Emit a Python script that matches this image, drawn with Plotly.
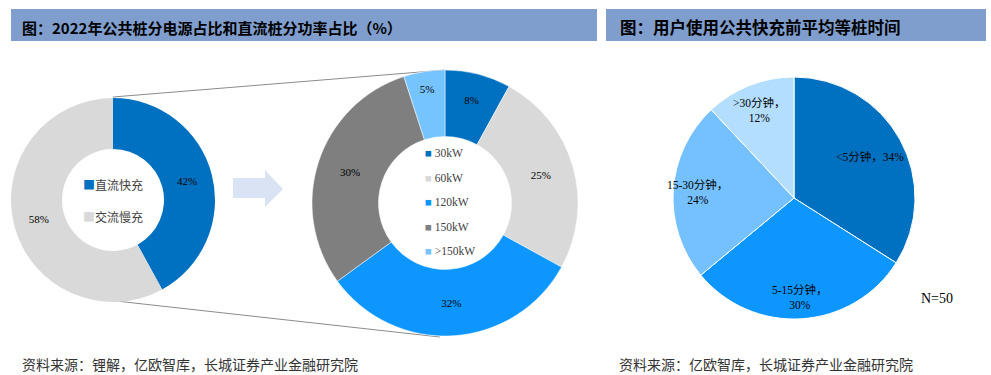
import math
import plotly.graph_objects as go

W, H = 991, 375

# ---------------- data ----------------
type_labels = ["直流快充", "交流慢充"]
type_values = [42, 58]
type_colors = ["#0070C0", "#D9D9D9"]

power_labels = ["30kW", "60kW", "120kW", "150kW", ">150kW"]
power_values = [8, 25, 32, 30, 5]
power_colors = ["#0070C0", "#D9D9D9", "#0E96FF", "#7F7F7F", "#75C3FF"]

wait_labels = ["<5分钟", "5-15分钟", "15-30分钟", ">30分钟"]
wait_values = [34, 30, 24, 12]
wait_colors = ["#0070C0", "#0E96FF", "#75C1FF", "#B4DEFF"]

title_left = "图：2022年公共桩分电源占比和直流桩分功率占比（%）"
title_right = "图：用户使用公共快充前平均等桩时间"
source_left = "资料来源：锂解，亿欧智库，长城证券产业金融研究院"
source_right = "资料来源：亿欧智库，长城证券产业金融研究院"
sample_note = "N=50"

SERIF = "Liberation Serif, Noto Sans CJK SC"
CJK = "Noto Sans CJK SC"

# geometry (pixels)
L_C, L_R = (113, 200), 102
M_C, M_R = (445, 203), 133
R_C, R_R = (794, 198), 121
wait_label_r = [0.72, 0.82, 0.80, 0.78]
wait_label_sep = ["，", "，<br>", "，<br>", "，<br>"]


def esc(s):
    return s.replace("<", "&lt;").replace(">", "&gt;")


def dom(c, r):
    cx, cy = c
    return dict(x=[(cx - r) / W, (cx + r) / W],
                y=[(H - cy - r) / H, (H - cy + r) / H])


fig = go.Figure()
# invisible cartesian frame for pixel-based decorations
fig.add_trace(go.Scatter(x=[], y=[], showlegend=False, hoverinfo="skip"))

fig.add_trace(go.Pie(
    labels=type_labels, values=type_values, hole=0.5, sort=False,
    direction="clockwise", rotation=0, domain=dom(L_C, L_R),
    marker=dict(colors=type_colors, line=dict(color="white", width=0)),
    texttemplate="%{value}%", textposition="inside",
    insidetextorientation="horizontal",
    textfont=dict(family=SERIF, size=11, color="black"), showlegend=False))

fig.add_trace(go.Pie(
    labels=power_labels, values=power_values, hole=0.5, sort=False,
    direction="clockwise", rotation=0, domain=dom(M_C, M_R),
    marker=dict(colors=power_colors, line=dict(color="white", width=0.5)),
    texttemplate="%{value}%", textposition="inside",
    insidetextorientation="horizontal",
    textfont=dict(family=SERIF, size=11, color="black"), showlegend=False))

fig.add_trace(go.Pie(
    labels=wait_labels, values=wait_values, sort=False,
    direction="clockwise", rotation=0, domain=dom(R_C, R_R),
    marker=dict(colors=wait_colors, line=dict(color="white", width=1)),
    textinfo="none", showlegend=False))

shapes = []
# title bars
shapes.append(dict(type="rect", xref="x", yref="y", x0=11, x1=597, y0=9, y1=41,
                   fillcolor="#7F9ECE", line=dict(width=0), layer="below"))
shapes.append(dict(type="rect", xref="x", yref="y", x0=606, x1=986, y0=9, y1=41,
                   fillcolor="#7F9ECE", line=dict(width=0), layer="below"))
# connector lines
shapes.append(dict(type="line", xref="x", yref="y", x0=113, y0=97, x1=445, y1=70,
                   line=dict(color="#8C8C8C", width=1), layer="below"))
shapes.append(dict(type="line", xref="x", yref="y", x0=107, y0=300, x1=440, y1=337,
                   line=dict(color="#8C8C8C", width=1), layer="below"))
# arrow
shapes.append(dict(type="path", xref="x", yref="y",
                   path="M233,178 L265,178 L265,170 L283,189 L265,207 L265,198 L233,198 Z",
                   fillcolor="#DAE3F3", line=dict(width=0), layer="below"))

annotations = []
annotations.append(dict(x=20, y=27, xref="x", yref="y", xanchor="left", yanchor="middle",
                        text=f"<b>{title_left}</b>", showarrow=False,
                        font=dict(family=CJK, size=15, color="black")))
annotations.append(dict(x=618, y=27, xref="x", yref="y", xanchor="left", yanchor="middle",
                        text=f"<b>{title_right}</b>", showarrow=False,
                        font=dict(family=CJK, size=16.5, color="black")))
annotations.append(dict(x=20, y=364, xref="x", yref="y", xanchor="left", yanchor="middle",
                        text=source_left, showarrow=False,
                        font=dict(family=CJK, size=14, color="#333333")))
annotations.append(dict(x=617, y=364, xref="x", yref="y", xanchor="left", yanchor="middle",
                        text=source_right, showarrow=False,
                        font=dict(family=CJK, size=14, color="#333333")))
annotations.append(dict(x=919, y=298, xref="x", yref="y", xanchor="left", yanchor="middle",
                        text=sample_note, showarrow=False,
                        font=dict(family="Liberation Serif", size=14, color="black")))

# legend inside left donut hole
for i, (lab, col) in enumerate(zip(type_labels, type_colors)):
    annotations.append(dict(x=81, y=184 + 32 * i, xref="x", yref="y", xanchor="left",
                            yanchor="middle", showarrow=False,
                            text=f"<span style='color:{col}'>■</span>{lab}",
                            font=dict(family=CJK, size=12, color="#404040")))
# legend inside middle donut hole
for i, (lab, col) in enumerate(zip(power_labels, power_colors)):
    annotations.append(dict(x=423, y=153 + 24.5 * i, xref="x", yref="y", xanchor="left",
                            yanchor="middle", showarrow=False,
                            text=f"<span style='color:{col}'>■</span> {esc(lab)}",
                            font=dict(family=SERIF, size=11.5, color="#404040")))

# right pie labels, placed at each slice's mid-angle
total = sum(wait_values)
cum = 0
for lab, val, rf, sep in zip(wait_labels, wait_values, wait_label_r, wait_label_sep):
    mid = (cum + val / 2) / total * 2 * math.pi
    cum += val
    x = R_C[0] + rf * R_R * math.sin(mid)
    y = R_C[1] - rf * R_R * math.cos(mid)
    annotations.append(dict(x=x, y=y, xref="x", yref="y", xanchor="center",
                            yanchor="middle", showarrow=False, align="center",
                            text=f"{esc(lab)}{sep}{val}%",
                            font=dict(family=SERIF, size=11.5, color="black")))

fig.update_layout(
    width=W, height=H, margin=dict(l=0, r=0, t=0, b=0),
    paper_bgcolor="white", plot_bgcolor="rgba(0,0,0,0)",
    xaxis=dict(range=[0, W], visible=False, fixedrange=True),
    yaxis=dict(range=[H, 0], visible=False, fixedrange=True),
    shapes=shapes, annotations=annotations, showlegend=False,
)

fig.write_html("out.html", config={"displayModeBar": False},
               post_script="document.body.style.margin='0px';")
